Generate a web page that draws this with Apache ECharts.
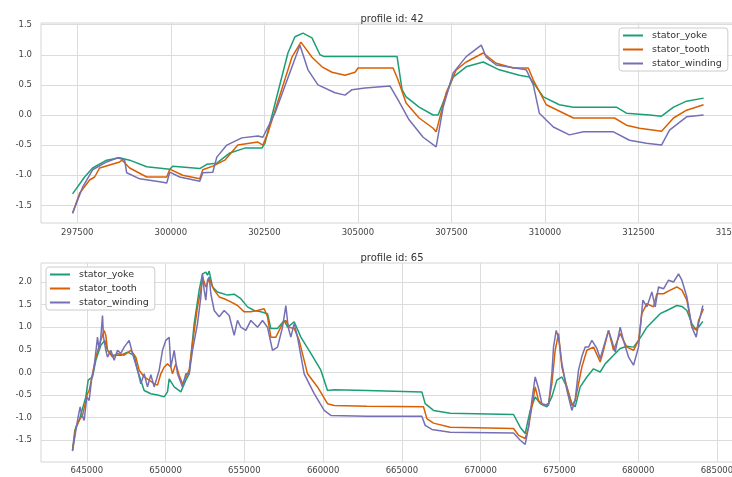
<!DOCTYPE html>
<html>
<head>
<meta charset="utf-8">
<script src="https://cdn.jsdelivr.net/npm/echarts@6/dist/echarts.min.js"></script>
<style>
html,body{margin:0;padding:0;background:#fff;}
#chart{width:732px;height:477px;}
</style>
</head>
<body>
<div id="chart"></div>
<script>
// ---- data ----
const seriesNames = ['stator_yoke', 'stator_tooth', 'stator_winding'];
const titles = ['profile id: 42', 'profile id: 65'];

const xTicks42 = [297500, 300000, 302500, 305000, 307500, 310000, 312500, 315000];
const yTicks42 = [-1.5, -1.0, -0.5, 0.0, 0.5, 1.0, 1.5];
const xTicks65 = [645000, 650000, 655000, 660000, 665000, 670000, 675000, 680000, 685000];
const yTicks65 = [-1.5, -1.0, -0.5, 0.0, 0.5, 1.0, 1.5, 2.0];

const yoke42 = [[297374,-1.31],[297695,-1.03],[297910,-0.88],[298284,-0.75],[298632,-0.71],[298900,-0.75],[299355,-0.86],[299971,-0.90],[300051,-0.85],[300774,-0.89],[300961,-0.82],[301229,-0.80],[301577,-0.63],[301979,-0.55],[302434,-0.55],[302515,-0.47],[303130,1.03],[303317,1.30],[303532,1.36],[303773,1.28],[303987,1.00],[304100,0.97],[306048,0.97],[306181,0.42],[306289,0.30],[306637,0.13],[307012,0.00],[307145,0.00],[307547,0.63],[307895,0.80],[308350,0.88],[308779,0.75],[309314,0.66],[309582,0.63],[309957,0.30],[310385,0.17],[310760,0.13],[311911,0.13],[312179,0.03],[312795,0.00],[313116,-0.02],[313437,0.13],[313785,0.23],[314240,0.28]];
const tooth42 = [[297374,-1.63],[297562,-1.30],[297829,-1.08],[297963,-1.03],[298097,-0.88],[298632,-0.78],[298700,-0.75],[298900,-0.88],[299355,-1.03],[299891,-1.03],[299971,-0.90],[300319,-1.00],[300774,-1.06],[300854,-0.91],[301122,-0.85],[301443,-0.75],[301791,-0.50],[302327,-0.45],[302461,-0.50],[302595,-0.30],[303237,0.96],[303478,1.21],[303773,0.96],[304040,0.80],[304308,0.71],[304656,0.66],[304923,0.71],[305004,0.78],[305941,0.78],[306074,0.58],[306289,0.20],[306637,-0.05],[307012,-0.22],[307092,-0.28],[307360,0.37],[307627,0.75],[307895,0.88],[308350,1.03],[308698,0.86],[309154,0.78],[309555,0.78],[309689,0.58],[310037,0.17],[310760,-0.05],[311858,-0.05],[312179,-0.17],[312527,-0.22],[313116,-0.27],[313437,-0.05],[313785,0.08],[314240,0.17]];
const winding42 = [[297374,-1.63],[297642,-1.20],[297910,-0.91],[298284,-0.78],[298579,-0.71],[298766,-0.75],[298820,-0.96],[299168,-1.06],[299703,-1.11],[299891,-1.13],[299971,-0.95],[300238,-1.03],[300774,-1.10],[300854,-0.96],[301122,-0.95],[301229,-0.70],[301497,-0.50],[301898,-0.38],[302327,-0.35],[302461,-0.37],[302782,0.03],[303451,1.16],[303666,0.75],[303933,0.50],[304388,0.37],[304656,0.33],[304843,0.42],[305191,0.45],[305860,0.48],[306074,0.25],[306369,-0.08],[306744,-0.37],[307092,-0.53],[307279,0.13],[307547,0.70],[307895,0.97],[308297,1.16],[308431,0.96],[308698,0.83],[309502,0.75],[309689,0.50],[309850,0.03],[310225,-0.20],[310653,-0.33],[311028,-0.28],[311831,-0.28],[312259,-0.42],[312714,-0.47],[313116,-0.50],[313330,-0.25],[313785,-0.03],[314240,0.00]];

const yoke65 = [[644090,-1.72],[644238,-1.28],[644513,-1.06],[644937,-0.54],[645085,-0.17],[645360,-0.10],[645571,0.27],[645889,0.60],[646143,0.71],[646312,0.49],[646630,0.38],[647159,0.38],[647582,0.45],[648005,0.38],[648217,0.05],[648640,-0.40],[649063,-0.47],[649487,-0.50],[649910,-0.54],[650121,-0.43],[650227,-0.14],[650545,-0.32],[650968,-0.43],[651286,-0.17],[651497,-0.03],[651709,0.71],[651815,1.08],[652132,1.82],[652344,2.18],[652555,2.22],[652661,2.15],[652767,2.24],[652979,1.89],[653296,1.78],[653931,1.71],[654354,1.73],[654777,1.63],[655201,1.45],[655624,1.37],[656047,1.34],[656471,1.30],[656682,0.97],[657106,0.97],[657529,1.15],[657741,1.00],[658164,1.12],[658587,0.78],[659222,0.42],[659857,0.05],[660280,-0.40],[660703,-0.38],[662777,-0.40],[666269,-0.43],[666481,-0.69],[667010,-0.84],[668068,-0.90],[672089,-0.93],[672513,-1.21],[672830,-1.35],[672936,-1.39],[673148,-0.84],[673465,-0.54],[673782,-0.69],[674206,-0.76],[674523,-0.54],[674840,-0.17],[675158,-0.10],[675475,-0.32],[675793,-0.69],[676004,-0.76],[676322,-0.32],[676745,-0.10],[677168,0.08],[677592,0.01],[677909,0.19],[678438,0.38],[678861,0.53],[679285,0.58],[679708,0.56],[680025,0.71],[680237,0.82],[680555,1.00],[680978,1.15],[681401,1.30],[681824,1.37],[682459,1.48],[682777,1.46],[683094,1.37],[683412,1.08],[683623,0.97],[683835,1.00],[684110,1.13]];
const tooth65 = [[644090,-1.72],[644302,-1.21],[644513,-1.06],[644725,-0.95],[645042,-0.47],[645148,-0.40],[645360,-0.03],[645571,0.34],[645889,0.71],[646100,0.93],[646206,0.82],[646312,0.49],[646630,0.34],[646947,0.42],[647370,0.38],[647794,0.49],[648111,0.34],[648323,0.05],[648640,-0.10],[648957,-0.17],[649275,-0.25],[649487,-0.28],[649698,-0.03],[649910,0.12],[650121,0.19],[650333,0.12],[650439,-0.03],[650651,0.19],[650862,-0.06],[651074,-0.25],[651286,-0.10],[651497,0.05],[651709,0.64],[652026,1.45],[652238,1.82],[652344,2.11],[652555,1.89],[652767,2.07],[653084,1.82],[653402,1.67],[653719,1.63],[654142,1.56],[654566,1.48],[654989,1.34],[655412,1.34],[655836,1.37],[656259,1.41],[656471,1.23],[656682,0.78],[657000,0.78],[657423,1.08],[657635,1.15],[657846,1.00],[658164,0.97],[658481,0.71],[659010,-0.03],[659645,-0.32],[660280,-0.69],[660703,-0.73],[662777,-0.75],[666375,-0.76],[666587,-1.02],[667010,-1.12],[668068,-1.21],[672089,-1.24],[672407,-1.39],[672830,-1.46],[673042,-1.21],[673253,-0.76],[673465,-0.32],[673677,-0.62],[673994,-0.73],[674311,-0.69],[674523,-0.25],[674734,0.49],[674946,0.86],[675158,0.12],[675475,-0.32],[675793,-0.73],[676004,-0.62],[676427,0.12],[676745,0.49],[677168,0.56],[677592,0.23],[677803,0.49],[678120,0.93],[678438,0.49],[678861,0.86],[679285,0.56],[679708,0.49],[680025,0.71],[680237,1.30],[680555,1.52],[680978,1.45],[681189,1.74],[681612,1.74],[682036,1.82],[682459,1.89],[682777,1.82],[683094,1.60],[683412,1.00],[683729,0.93],[683835,1.15],[684152,1.41]];
const winding65 = [[644090,-1.74],[644302,-1.28],[644450,-0.98],[644577,-0.76],[644661,-0.91],[644831,-1.06],[645000,-0.54],[645148,-0.62],[645297,-0.17],[645465,0.12],[645677,0.78],[645783,0.49],[645889,0.78],[645995,1.26],[646058,0.78],[646206,0.49],[646312,0.34],[646524,0.49],[646735,0.27],[646947,0.49],[647159,0.42],[647370,0.56],[647688,0.71],[647900,0.42],[648217,0.05],[648428,-0.25],[648640,-0.03],[648852,-0.32],[649063,-0.05],[649275,-0.32],[649593,0.05],[649804,0.49],[650016,0.71],[650227,0.78],[650333,0.12],[650545,0.49],[650757,-0.03],[651074,-0.32],[651286,-0.03],[651497,-0.03],[651709,0.49],[652026,1.08],[652238,1.67],[652344,2.18],[652450,1.82],[652555,1.60],[652661,2.04],[652767,2.11],[652873,1.74],[653084,1.37],[653402,1.23],[653719,1.37],[654036,1.26],[654354,0.82],[654566,1.15],[654777,1.00],[655095,0.93],[655412,1.15],[655836,1.00],[656153,1.15],[656471,1.00],[656788,0.49],[657106,0.56],[657423,1.00],[657635,1.48],[657783,1.00],[657952,0.78],[658164,1.08],[658375,0.78],[658799,-0.03],[659434,-0.47],[660068,-0.84],[660492,-0.95],[662777,-0.97],[666269,-0.97],[666481,-1.17],[666904,-1.26],[668068,-1.32],[672089,-1.34],[672513,-1.50],[672830,-1.59],[673042,-1.21],[673253,-0.62],[673465,-0.10],[673677,-0.35],[673888,-0.69],[674311,-0.73],[674523,-0.03],[674629,0.56],[674798,0.93],[674946,0.78],[675158,0.20],[675475,-0.39],[675793,-0.84],[676004,-0.60],[676216,0.05],[676427,0.35],[676639,0.56],[676851,0.56],[677063,0.71],[677380,0.53],[677592,0.31],[677803,0.56],[678120,0.93],[678332,0.70],[678544,0.45],[678861,1.00],[679073,0.70],[679391,0.34],[679708,0.16],[680025,0.56],[680301,1.60],[680555,1.45],[680872,1.78],[681084,1.45],[681295,1.89],[681612,1.85],[681930,2.04],[682248,2.00],[682565,2.18],[682777,2.04],[683094,1.67],[683412,1.00],[683687,0.78],[683835,1.08],[684110,1.48]];

// ---- styling ----
const colors = ['#1b9e77', '#d95f02', '#7570b3'];
const FONT = 'DejaVu Sans';
const gridColor = '#dcdcdc';
const labelColor = '#444444';

function xAxis(gridIndex, min, max, ticks, margin) {
  return {
    type: 'value', gridIndex, min, max,
    axisLine: {show: false},
    axisTick: {show: false, customValues: ticks},
    axisLabel: {customValues: ticks, color: labelColor, fontSize: 8.5, fontFamily: FONT, margin: margin,
      hideOverlap: false, formatter: v => String(Math.round(v))},
    splitLine: {show: true, lineStyle: {color: gridColor, width: 1}}
  };
}
function yAxis(gridIndex, min, max, ticks) {
  return {
    type: 'value', gridIndex, min, max,
    axisLine: {show: false},
    axisTick: {show: false, customValues: ticks},
    axisLabel: {customValues: ticks, color: labelColor, fontSize: 8.5, fontFamily: FONT, margin: 9,
      formatter: v => v.toFixed(1)},
    splitLine: {show: true, lineStyle: {color: gridColor, width: 1}}
  };
}
function legend(left, top) {
  return {
    orient: 'vertical', left, top,
    padding: [2, 6, 2, 4], itemGap: 3,
    itemWidth: 20, itemHeight: 2, icon: 'rect',
    backgroundColor: 'rgba(255,255,255,0.85)',
    borderColor: '#cccccc', borderWidth: 1, borderRadius: 3,
    textStyle: {fontSize: 9.5, fontFamily: FONT, color: '#333', lineHeight: 11, padding: [0, 0, 0, 4]},
    data: seriesNames
  };
}
function line(name, data, idx, color) {
  return {
    name, type: 'line', data, xAxisIndex: idx, yAxisIndex: idx,
    symbol: 'none', showSymbol: false, smooth: false,
    lineStyle: {color, width: 1.5}, itemStyle: {color},
    emphasis: {disabled: true}, animation: false
  };
}

const chart = echarts.init(document.getElementById('chart'), null, {renderer: 'canvas'});
chart.setOption({
  backgroundColor: '#ffffff',
  animation: false,
  title: [
    {text: titles[0], left: 387, top: 9, textAlign: 'center',
     textStyle: {fontSize: 10, fontWeight: 'normal', color: '#333', fontFamily: FONT}},
    {text: titles[1], left: 387, top: 248, textAlign: 'center',
     textStyle: {fontSize: 10, fontWeight: 'normal', color: '#333', fontFamily: FONT}}
  ],
  legend: [legend(619, 28), legend(46, 267)],
  grid: [
    {left: 41, top: 23, right: -3, height: 200, outerBoundsMode: 'none', containLabel: false,
     show: true, borderColor: '#d5d5d5', borderWidth: 1, backgroundColor: '#fff'},
    {left: 41, top: 263, right: -3, height: 199, outerBoundsMode: 'none', containLabel: false,
     show: true, borderColor: '#d5d5d5', borderWidth: 1, backgroundColor: '#fff'}
  ],
  xAxis: [xAxis(0, 296530, 315080, xTicks42, 5), xAxis(1, 642090, 686150, xTicks65, 4)],
  yAxis: [yAxis(0, -1.794, 1.528, yTicks42), yAxis(1, -1.98, 2.42, yTicks65)],
  series: [
    line(seriesNames[0], yoke42, 0, colors[0]),
    line(seriesNames[1], tooth42, 0, colors[1]),
    line(seriesNames[2], winding42, 0, colors[2]),
    line(seriesNames[0], yoke65, 1, colors[0]),
    line(seriesNames[1], tooth65, 1, colors[1]),
    line(seriesNames[2], winding65, 1, colors[2])
  ]
});
</script>
</body>
</html>
